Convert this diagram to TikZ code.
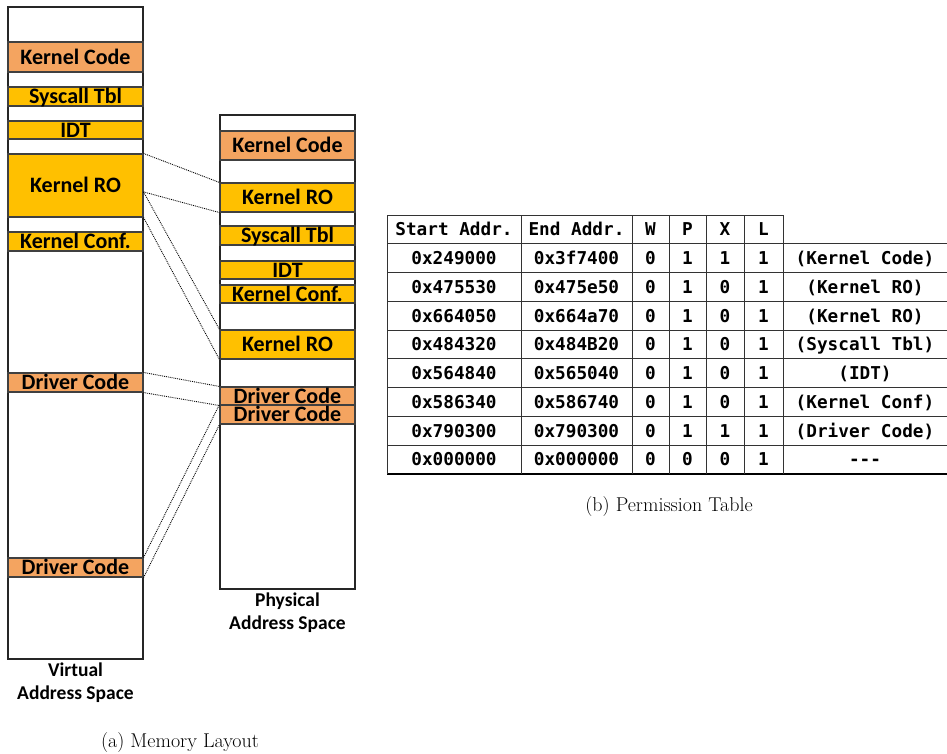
\documentclass[tikz,border=0pt]{standalone}
\usepackage{fontspec}
\newfontfamily\calfont{Carlito}
\newfontfamily\tblfont{DejaVu Sans Mono}
\usetikzlibrary{calc}
\definecolor{blkorange}{HTML}{F4A460}
\definecolor{blkyellow}{HTML}{FFC000}
\definecolor{blkline}{HTML}{404040}
\begin{document}
\begin{tikzpicture}[x=1pt,y=-1pt,
  addrspace/.style={draw=black!85, line width=1.2pt, fill=white, minimum width=135pt, inner sep=0pt},
  blk/.style={draw=blkline, line width=1.1pt, minimum width=135pt, inner xsep=0pt, inner ysep=0pt,
    text height=14pt, text depth=0pt, font=\calfont\bfseries\fontsize{22}{24}\selectfont},
  ora/.style={blk, fill=blkorange},
  yel/.style={blk, fill=blkyellow},
  maplink/.style={densely dotted, line width=0.9pt},
  spacelbl/.style={align=center, inner sep=0pt, font=\calfont\bfseries\fontsize{19.5}{22.5}\selectfont},
  caption/.style={inner sep=0pt, font=\fontsize{20}{22}\selectfont},
  cell/.style={inner sep=0pt, text height=12.9pt, text depth=0pt, font=\tblfont\bfseries\fontsize{17.7}{20}\selectfont},
  tline/.style={line width=0.9pt, draw=black!80},
  tthick/.style={line width=1.8pt, draw=black}
]
\useasboundingbox (0,0) rectangle (947,753);

% ---------- Virtual address space ----------
\node[addrspace, minimum height=652pt] (virt) at (75.5,333) {};
\node[ora, minimum height=30pt] (vkc)   at (75.5,57)    {Kernel Code};
\node[yel, minimum height=19pt] (vsys)  at (75.5,96.5)  {Syscall Tbl};
\node[yel, minimum height=18pt] (vidt)  at (75.5,130)   {IDT};
\node[yel, minimum height=63pt] (vro)   at (75.5,185.5) {Kernel RO};
\node[yel, minimum height=19pt] (vconf) at (75.5,241.5) {Kernel Conf.};
\node[ora, minimum height=19pt] (vdrv1) at (75.5,382.5) {Driver Code};
\node[ora, minimum height=19pt] (vdrv2) at (75.5,567.5) {Driver Code};
\node[spacelbl, anchor=north] (vlbl) at (75.5,663) {Virtual\\Address Space};

% ---------- Physical address space ----------
\node[addrspace, minimum height=474pt] (phys) at (287.5,352) {};
\node[ora, minimum height=29pt] (pkc)   at (287.5,145.5) {Kernel Code};
\node[yel, minimum height=29pt] (pro1)  at (287.5,197.5) {Kernel RO};
\node[yel, minimum height=19pt] (psys)  at (287.5,235.5) {Syscall Tbl};
\node[yel, minimum height=18pt] (pidt)  at (287.5,270)   {IDT};
\node[yel, minimum height=18pt] (pconf) at (287.5,294)   {Kernel Conf.};
\node[yel, minimum height=29pt] (pro2)  at (287.5,344.5) {Kernel RO};
\node[ora, minimum height=18pt] (pdrv1) at (287.5,396)   {Driver Code};
\node[ora, minimum height=19pt] (pdrv2) at (287.5,414.5) {Driver Code};
\node[spacelbl, anchor=north] (plbl) at (287.5,593) {Physical\\Address Space};

% ---------- mapping links ----------
\coordinate (vromid) at ($(vro.north east)!0.6!(vro.south east)$);
\draw[maplink] (vro.north east) -- (pro1.north west);
\draw[maplink] (vromid) -- (pro1.south west);
\draw[maplink] (vromid) -- (pro2.north west);
\draw[maplink] (vro.south east) -- (pro2.south west);
\draw[maplink] (vdrv1.north east) -- (pdrv1.north west);
\draw[maplink] (vdrv1.south east) -- (pdrv1.south west);
\draw[maplink] (vdrv2.north east) -- (pdrv2.north west);
\draw[maplink] (vdrv2.south east) -- (pdrv2.south west);

\node[caption, anchor=base] (capa) at (180,747) {(a) Memory Layout};

% ---------- Permission table ----------
\def\rh{28.75}
% horizontal lines
\draw[tline] (387,215) -- (783,215);
\foreach \i in {1,...,8} {
  \draw[tline] (387,215+\i*\rh) -- (947,215+\i*\rh);
}
\draw[tthick] (387,215+9*\rh) -- (947,215+9*\rh);
% vertical lines
\foreach \x in {387,521,632,669,706,744,783} {
  \draw[tline] (\x,215) -- (\x,215+9*\rh);
}
% header
\node[cell] (h1) at (454,215+0.5*\rh)   {Start Addr.};
\node[cell] (h2) at (576.5,215+0.5*\rh) {End Addr.};
\node[cell] (h3) at (650.5,215+0.5*\rh) {W};
\node[cell] (h4) at (687.5,215+0.5*\rh) {P};
\node[cell] (h5) at (725,215+0.5*\rh)   {X};
\node[cell] (h6) at (763.5,215+0.5*\rh) {L};
% rows
\foreach \a/\b/\c/\d/\e/\f/\g [count=\i] in {
  0x249000/0x3f7400/0/1/1/1/(Kernel Code),
  0x475530/0x475e50/0/1/0/1/(Kernel RO),
  0x664050/0x664a70/0/1/0/1/(Kernel RO),
  0x484320/0x484B20/0/1/0/1/(Syscall Tbl),
  0x564840/0x565040/0/1/0/1/(IDT),
  0x586340/0x586740/0/1/0/1/(Kernel Conf),
  0x790300/0x790300/0/1/1/1/(Driver Code),
  0x000000/0x000000/0/0/0/1/-{}-{}-} {
  \node[cell] (r\i-1) at (454,215+\i*\rh+0.5*\rh)   {\a};
  \node[cell] (r\i-2) at (576.5,215+\i*\rh+0.5*\rh) {\b};
  \node[cell] (r\i-3) at (650.5,215+\i*\rh+0.5*\rh) {\c};
  \node[cell] (r\i-4) at (687.5,215+\i*\rh+0.5*\rh) {\d};
  \node[cell] (r\i-5) at (725,215+\i*\rh+0.5*\rh)   {\e};
  \node[cell] (r\i-6) at (763.5,215+\i*\rh+0.5*\rh) {\f};
  \node[cell] (r\i-7) at (865,215+\i*\rh+0.5*\rh)   {\g};
}
\node[caption, anchor=base] (capb) at (669,511) {(b) Permission Table};
\end{tikzpicture}
\end{document}
